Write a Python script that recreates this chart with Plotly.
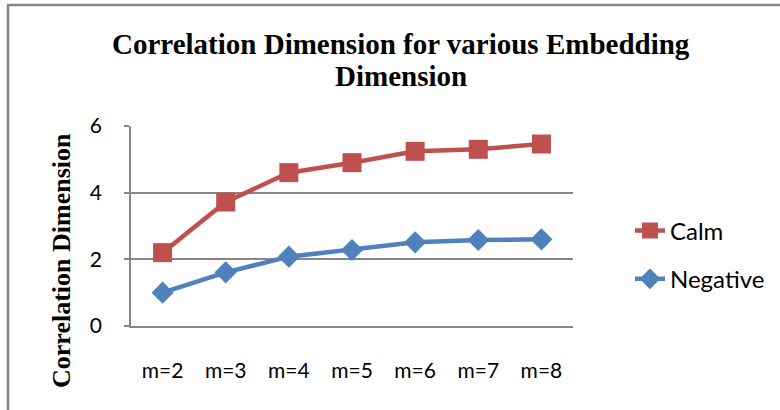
import plotly.graph_objects as go

categories = ["m=2", "m=3", "m=4", "m=5", "m=6", "m=7", "m=8"]
calm = [2.2, 3.72, 4.6, 4.9, 5.24, 5.3, 5.46]
negative = [1.0, 1.61, 2.08, 2.28, 2.51, 2.58, 2.6]

title_lines = ["Correlation Dimension for various Embedding", "Dimension"]
y_title = "Correlation Dimension"

RED = "#C0504D"
BLUE = "#4F81BD"
GRID = "#868686"
SANS = "Lato, Carlito, Calibri, sans-serif"
SERIF = "Liberation Serif, Times New Roman, serif"
TICK_FONT = dict(family=SANS, size=21, color="#000000")
TITLE_FONT = dict(family=SERIF, size=29, color="#000000", weight="bold")

fig = go.Figure()
fig.add_trace(go.Scatter(
    x=categories, y=calm, name="Calm", mode="lines+markers",
    line=dict(color=RED, width=4.5),
    marker=dict(symbol="square", size=19, color=RED),
    legendgroup="a",
))
fig.add_trace(go.Scatter(
    x=categories, y=negative, name="Negative", mode="lines+markers",
    line=dict(color=BLUE, width=4.5),
    marker=dict(symbol="diamond", size=17, color=BLUE),
    legendgroup="b",
))

W, H = 780, 410
L, R, T, B = 131, 207, 126, 84
pw, ph = W - L - R, H - T - B

def px_x(p):
    return (p - L) / pw

def px_y(p):
    return (H - B - p) / ph

annotations = [
    dict(text=title_lines[0], x=px_x(401), y=px_y(44), font=TITLE_FONT),
    dict(text=title_lines[1], x=px_x(401), y=px_y(76), font=TITLE_FONT),
    dict(text=y_title, textangle=-90, x=px_x(61), y=px_y(261),
         font=dict(family=SERIF, size=26, color="#000000", weight="bold")),
]
for a in annotations:
    a.update(showarrow=False, xref="paper", yref="paper",
             xanchor="center", yanchor="middle")

# Outer frame: left and top edges of the chart border
frame = dict(xref="paper", yref="paper", line=dict(color=GRID, width=2.5), layer="above")
shapes = [
    dict(type="line", x0=px_x(8), x1=px_x(8), y0=px_y(5), y1=px_y(420), **frame),
    dict(type="line", x0=px_x(7), x1=px_x(800), y0=px_y(5), y1=px_y(5), **frame),
]

fig.update_layout(
    width=W, height=H,
    margin=dict(l=L, r=R, t=T, b=B, autoexpand=False),
    paper_bgcolor="white", plot_bgcolor="white",
    showlegend=True,
    legend=dict(
        x=px_x(630), y=px_y(255), xanchor="left", yanchor="middle",
        font=dict(family=SANS, size=24, color="#000000"),
        tracegroupgap=14, bgcolor="rgba(0,0,0,0)",
    ),
    xaxis=dict(
        type="category", range=[-0.5, 6.5],
        showgrid=False, showline=True, linecolor=GRID, linewidth=1.5,
        ticks="", tickfont=TICK_FONT, ticklabelstandoff=25,
    ),
    yaxis=dict(
        range=[0, 6], tickvals=[0, 2, 4, 6],
        showgrid=True, gridcolor=GRID, gridwidth=1.5,
        showline=True, linecolor=GRID, linewidth=1.5,
        ticks="outside", ticklen=5, tickcolor=GRID, tickwidth=1.5,
        tickfont=TICK_FONT, ticklabelstandoff=18, zeroline=False,
    ),
    annotations=annotations,
    shapes=shapes,
)

fig.write_html("out.html")
